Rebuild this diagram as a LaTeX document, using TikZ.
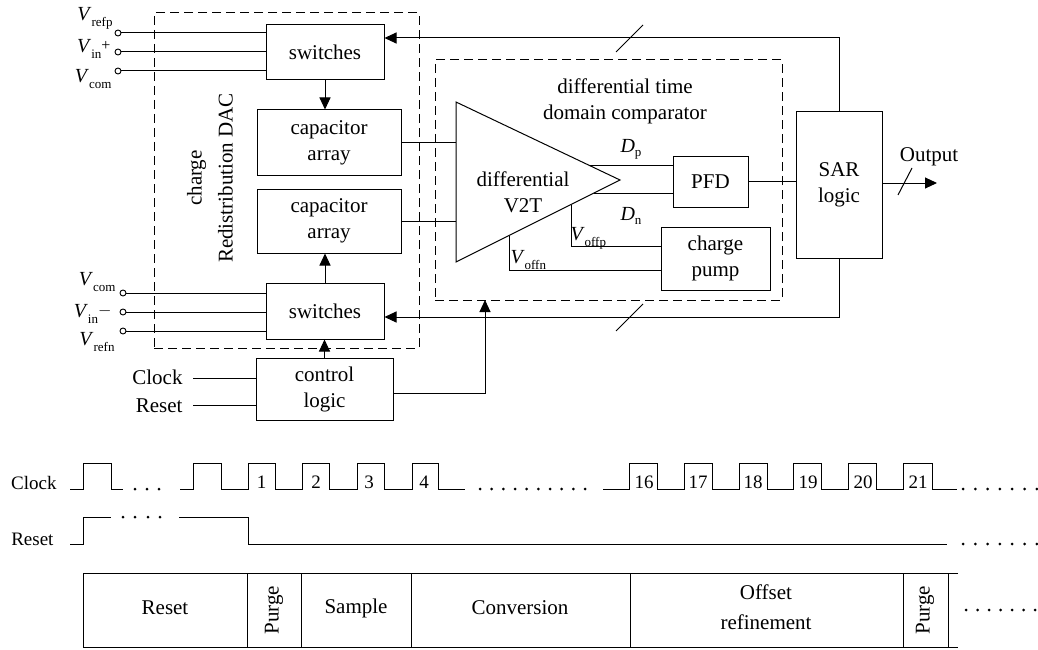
\documentclass[tikz,border=0pt]{standalone}
\usepackage{fontspec}
\setmainfont{Liberation Serif}
\usetikzlibrary{arrows.meta,calc}
\newcommand{\Vsub}[1]{\textit{V}\raisebox{-6pt}{\fontsize{13}{13}\selectfont #1}}
\newcommand{\Dsub}[1]{\textit{D}\raisebox{-4pt}{\fontsize{13}{13}\selectfont #1}}
\newcommand{\smallsign}[1]{\raisebox{2pt}{\fontsize{16}{16}\selectfont #1}}
\begin{document}
\begin{tikzpicture}[x=1pt,y=-1pt,line width=1pt,
  big/.style={font=\fontsize{21}{26}\selectfont},
  blk/.style={draw,rectangle,inner sep=0pt,align=center,big},
  txt/.style={inner sep=0pt,align=center,big},
  lbl/.style={inner sep=0pt,font=\fontsize{20}{24}\selectfont},
  tim/.style={inner sep=0pt,font=\fontsize{19}{22}\selectfont},
  dbox/.style={draw,rectangle,dash pattern=on 9pt off 5pt,inner sep=0pt},
  term/.style={draw,circle,fill=white,inner sep=0pt,minimum size=6pt,line width=0.9pt},
  arr/.style={-{Triangle[length=12pt,width=11pt]}},
  dotc/.style={fill=black,draw=none}]
\useasboundingbox (0,0) rectangle (1038,650);

% dashed group boxes
\node[dbox,minimum width=265pt,minimum height=335pt] (dac) at (286.5,180.5) {};
\node[dbox,minimum width=347pt,minimum height=240pt] (cmp) at (608.5,180) {};

% blocks
\node[blk,minimum width=118pt,minimum height=55pt] (sw1) at (325,52.5) {switches};
\node[blk,minimum width=144pt,minimum height=65pt] (cap1) at (329,142.5) {capacitor\\array};
\node[blk,minimum width=144pt,minimum height=64pt] (cap2) at (329,221) {capacitor\\array};
\node[blk,minimum width=118pt,minimum height=56pt] (sw2) at (325,311) {switches};
\node[blk,minimum width=137pt,minimum height=62pt] (ctrl) at (324.5,389) {control\\logic};
\node[blk,minimum width=75pt,minimum height=51pt] (pfd) at (710.5,181.5) {PFD};
\node[blk,minimum width=109pt,minimum height=63pt] (cp) at (715.5,258.5) {charge\\pump};
\node[blk,minimum width=86pt,minimum height=146pt] (sar) at (839,185) {SAR\\logic};

\node[txt,rotate=90,font=\fontsize{21}{31}\selectfont] (daclbl) at (210,178) {charge\\Redistribution DAC};
\node[txt] (cmplbl) at (625,101) {differential time\\domain comparator};

% V2T triangle
\coordinate (ta) at (456,102);
\coordinate (tb) at (456,262);
\coordinate (tt) at (620,180);
\draw (ta) -- (tt) -- (tb) -- cycle;
\node[txt] (v2t) at (523,192) {differential\\V2T};

% inputs top
\node[term] (i1) at (118,33) {};
\node[term] (i2) at (118,52) {};
\node[term] (i3) at (118,71) {};
\draw (i1) -- (i1 -| sw1.west);
\draw (i2) -- (i2 -| sw1.west);
\draw (i3) -- (i3 -| sw1.west);
\node[lbl,anchor=base east] (l1) at (113,21) {\Vsub{refp}};
\node[lbl,anchor=base east] (l2) at (111,53) {\Vsub{in}\smallsign{+}};
\node[lbl,anchor=base east] (l3) at (112,83) {\Vsub{com}};

% inputs bottom
\node[term] (j1) at (123,293) {};
\node[term] (j2) at (123,312) {};
\node[term] (j3) at (123,331) {};
\draw (j1) -- (j1 -| sw2.west);
\draw (j2) -- (j2 -| sw2.west);
\draw (j3) -- (j3 -| sw2.west);
\node[lbl,anchor=base east] (m1) at (116,285) {\Vsub{com}};
\node[lbl,anchor=base east] (m2) at (112,317) {\Vsub{in}\smallsign{$-$}};
\node[lbl,anchor=base east] (m3) at (115,345) {\Vsub{refn}};

% internal arrows
\draw[arr] (sw1.south) -- (sw1.south |- cap1.north);
\draw[arr] (sw2.north) -- (sw2.north |- cap2.south);
\draw[arr] (ctrl.north) -- (ctrl.north |- sw2.south);

% cap arrays to V2T
\coordinate (in1) at (456,142.5);
\coordinate (in2) at (456,221);
\draw (cap1.east) -- (in1);
\draw (cap2.east) -- (in2);

% Dp, Dn
\coordinate (dp) at (588.5,165);
\coordinate (dn) at (594,193);
\draw (dp) -- (dp -| pfd.west);
\draw (dn) -- (dn -| pfd.west);
\node[lbl,anchor=base west] (dplbl) at (620,153) {\Dsub{p}};
\node[lbl,anchor=base west] (dnlbl) at (620,220) {\Dsub{n}};

% PFD to charge pump
\draw ($(pfd.south west)+(23,0)$) -- ($(pfd.south west)+(23,0)$ |- cp.north);
\draw ($(pfd.south west)+(56,0)$) -- ($(pfd.south west)+(56,0)$ |- cp.north);

% Voff lines
\coordinate (vp) at (571,204.5);
\coordinate (vn) at (509,235.5);
\draw (vp) |- ($(cp.west)+(0,-12.5)$);
\draw (vn) |- ($(cp.west)+(0,11.5)$);
\node[lbl,anchor=base west] (vplbl) at (570,240) {\Vsub{offp}};
\node[lbl,anchor=base west] (vnlbl) at (510,263) {\Vsub{offn}};

% PFD to SAR
\draw (pfd.east) -- (pfd.east -| sar.west);

% feedback
\coordinate (f1) at (839,38);
\coordinate (f2) at (839,317);
\draw[arr] (sar.north) -- (f1) -- (f1 -| sw1.east);
\draw[arr] (sar.south) -- (f2) -- (f2 -| sw2.east);
\draw (616,52) -- (643,25);
\draw (616,331) -- (643,304);

% output
\coordinate (outp) at (937,183);
\draw[arr] (sar.east |- outp) -- (outp);
\draw (898,195) -- (912,168);
\node[txt] (outlbl) at (929,157) {Output};

% control logic
\coordinate (clk) at (193,378);
\coordinate (rst) at (193,405);
\draw (clk) -- (clk -| ctrl.west);
\draw (rst) -- (rst -| ctrl.west);
\node[txt,anchor=east] (clklbl) at (183,377) {Clock};
\node[txt,anchor=east] (rstlbl) at (183,406) {Reset};
\coordinate (cin) at (485,300);
\draw[arr] ($(ctrl.east)+(0,4)$) -| (cin);

% ---------------- timing ----------------
\node[tim,anchor=base east] (tclk) at (57,489) {Clock};
\node[tim,anchor=base east] (trst) at (54,545) {Reset};

\draw (70,489)--(83,489)--(83,463)--(111,463)--(111,489)--(123,489);
\foreach \x in {135,147,159} \fill[dotc] (\x,489) circle (1.5pt);
\draw (180,489)--(193,489)--(193,463)--(221,463)--(221,489)--(248,489)--(248,463)--(275,463)--(275,489)--(302,489)--(302,463)--(329,463)--(329,489)--(357,489)--(357,463)--(384,463)--(384,489)--(412,489)--(412,463)--(438,463)--(438,489)--(465,489);
\foreach \x in {0,...,9} \fill[dotc] (480+\x*11.67,489) circle (1.5pt);
\draw (603,489)--(629,489)--(629,463)--(657,463)--(657,489)--(684,489)--(684,463)--(712,463)--(712,489)--(739,489)--(739,463)--(767,463)--(767,489)--(793,489)--(793,463)--(821,463)--(821,489)--(848,489)--(848,463)--(876,463)--(876,489)--(903,489)--(903,463)--(932,463)--(932,489)--(957,489);
\foreach \x in {0,...,6} \fill[dotc] (963+\x*12.3,489) circle (1.5pt);
\foreach \n/\x in {1/261.5,2/316,3/369,4/424,16/644,17/698,18/753,19/808,20/863,21/918}
  \node[tim,anchor=base] at (\x,488) {\n};

\draw (70,544)--(83,544)--(83,517)--(111,517);
\foreach \x in {123,135,148,160} \fill[dotc] (\x,517) circle (1.5pt);
\draw (179,517)--(248,517)--(248,544)--(947,544);
\foreach \x in {0,...,6} \fill[dotc] (963+\x*12.3,544) circle (1.5pt);

% ---------------- phase table ----------------
\draw (958,573) -- (83,573) -- (83,647) -- (958,647);
\foreach \x in {247,301,411,630,903,948} \draw (\x,573) -- (\x,647);
\node[txt] at (165,608) {Reset};
\node[txt,rotate=90] at (274,610) {Purge};
\node[txt] at (356,608) {Sample};
\node[txt] at (520,608) {Conversion};
\node[txt,font=\fontsize{21}{30}\selectfont] at (766,607) {Offset\\refinement};
\node[txt,rotate=90] at (925,610) {Purge};
\foreach \x in {0,...,6} \fill[dotc] (966+\x*11.5,610) circle (1.5pt);
\end{tikzpicture}
\end{document}
